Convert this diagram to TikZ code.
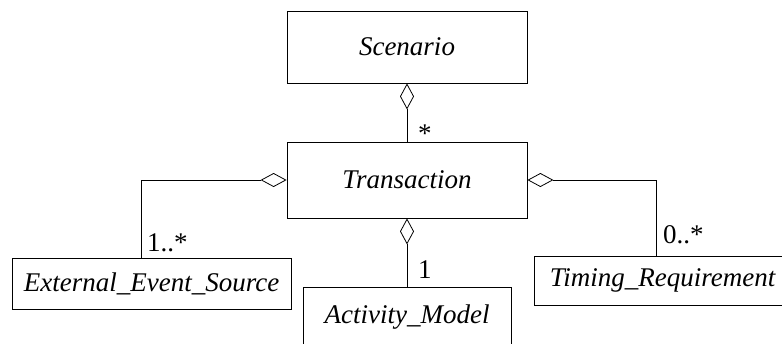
\documentclass[tikz,border=0pt]{standalone}
\usepackage{fontspec}
\setmainfont{Liberation Serif}
\usetikzlibrary{arrows.meta,positioning}

\tikzset{
  cls/.style = {draw, rectangle, line width=0.8pt, font=\fontsize{27}{31}\selectfont\itshape, inner sep=0pt},
  agg/.style = {line width=0.8pt, {Diamond[open, length=26pt, width=14pt, line width=0.8pt]}-},
  mult/.style = {anchor=base west, inner sep=0pt, font=\fontsize{27}{31}\selectfont}
}

\begin{document}
\begin{tikzpicture}[x=1pt, y=-1pt]
  \useasboundingbox (0,0) rectangle (782,343);
  \clip (0,0) rectangle (782,343);
  % classes
  \node[cls, minimum width=240pt, minimum height=72pt] (scen) at (407,47) {Scenario};
  \node[cls, minimum width=240pt, minimum height=76pt] (trans) at (407,180) {Transaction};
  \node[cls, minimum width=279pt, minimum height=51pt] (ext) at (151.5,283.5) {External\_Event\_Source};
  \node[cls, minimum width=208pt, minimum height=60pt] (act) at (407,317) {Activity\_Model};
  \node[cls, minimum width=257pt, minimum height=49pt] (tim) at (662.5,280.5) {Timing\_Requirement};
  %
  \coordinate (extin) at (141,258);
  \coordinate (timin) at (656,256);
  %
  \draw[agg] (scen) -- (trans);
  \draw[agg] (trans.west) -| (extin);
  \draw[agg] (trans.east) -| (timin);
  \draw[agg] (trans) -- (act);
  % multiplicities
  \node[mult] (m1) at (418,142) {*};
  \node[mult] (m2) at (147,251) {1..*};
  \node[mult] (m3) at (418,278) {1};
  \node[mult] (m4) at (663,243) {0..*};
\end{tikzpicture}
\end{document}
